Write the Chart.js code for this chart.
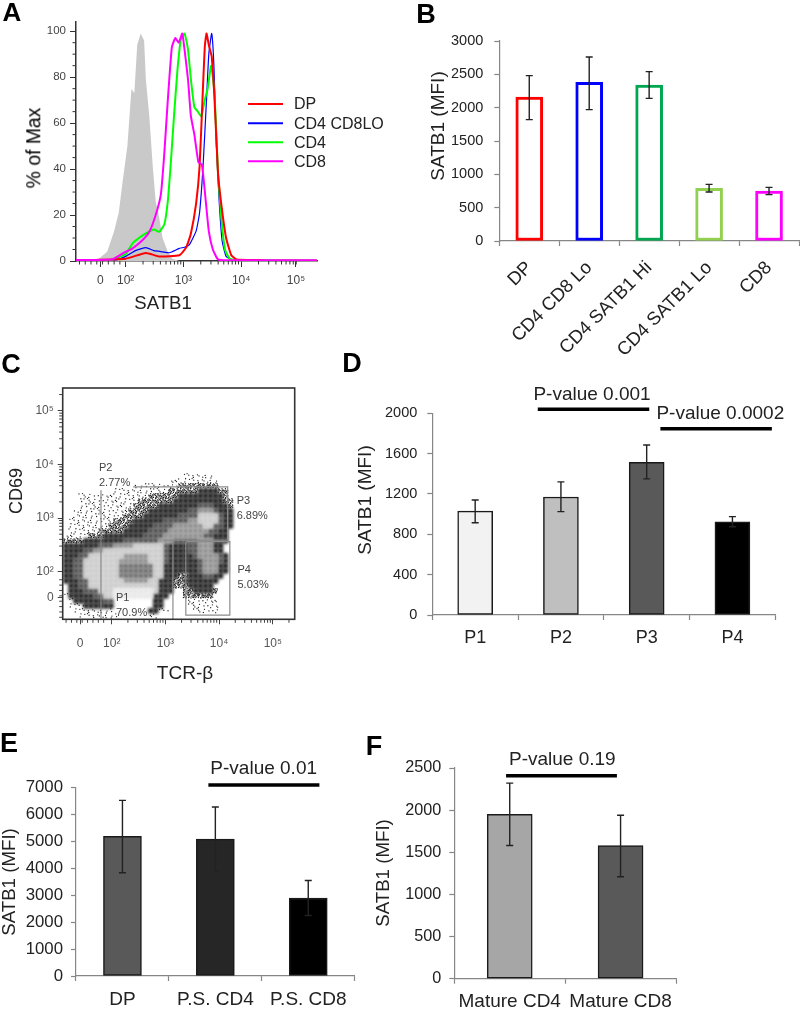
<!DOCTYPE html>
<html>
<head>
<meta charset="utf-8">
<title>SATB1 panels</title>
<script src="https://cdn.jsdelivr.net/npm/chart.js@4"></script>
<style>
  html, body { margin: 0; padding: 0; background: #fff; }
  #page { position: relative; width: 800px; height: 1009px; overflow: hidden; font-family: "Liberation Sans", Arial, sans-serif; filter: blur(0.35px); }
  canvas { position: absolute; }
  .txt { position: absolute; white-space: nowrap; color: #222; line-height: 1; }
</style>
</head>
<body>
<div id="page"></div>
<script>
// Panel A: histogram curves, x in display decades, y in % of max
const grayX = [1.14,1.48,1.56,1.68,1.80,1.88,1.95,2.03,2.10,2.15,2.20,2.26,2.32,2.35,2.41,2.47,2.52,2.58,2.64,2.73,2.81,2.93];
const grayY = [0,0.3,1.5,4,13,21,35,50,75,73,94,99,96,79,63,41,26,19,10,4,1,0];
const dpX = [1.14,2.00,2.35,2.58,2.93,3.05,3.13,3.22,3.28,3.33,3.37,3.40,3.44,3.49,3.54,3.60,3.66,3.74,3.83,3.92,4.33,4.44,5.31];
const dpY = [0.3,1,3.5,2,2.5,6,12,25,41,70,93,99,94,89,70,38,24,10,2.5,0.7,0.4,0.1,0.1];
const loX = [1.14,1.83,2.00,2.17,2.35,2.49,2.64,2.76,2.93,3.02,3.10,3.22,3.28,3.34,3.40,3.44,3.49,3.53,3.57,3.62,3.67,3.74,3.86,5.31];
const loY = [0.4,0.5,2,4.5,5.8,4.5,4,3.6,5.5,6,7,13,21,41,70,90,99,84,51,26,9,2,0.4,0.2];
const cd4X = [1.14,1.71,1.80,2.00,2.12,2.23,2.35,2.49,2.58,2.67,2.73,2.78,2.84,2.90,2.96,3.02,3.08,3.13,3.19,3.25,3.31,3.37,3.42,3.48,3.54,3.60,3.66,3.72,3.80,3.92,5.31];
const cd4Y = [0.2,0.2,1,3,7.7,10,12,13.7,12.7,16,26,42,64,84,97,99,92,79,67,65,63,70,75,85,73,38,18,5,1,0.3,0.2];
const cd8X = [1.14,1.71,1.80,1.97,2.12,2.29,2.41,2.52,2.61,2.67,2.73,2.80,2.86,2.92,2.98,3.02,3.08,3.13,3.19,3.26,3.32,3.38,3.44,3.51,3.60,3.74,5.31];
const cd8Y = [0.4,0.5,1,3.6,5.5,9,12.7,20,29,47,70,93,97,95,99,92,79,63,55,43,42,28,13,5,0.7,0.3,0.3];
const legendNames = ['DP', 'CD4 CD8LO', 'CD4', 'CD8'];
const legendColors = ['#ff0000', '#0000ff', '#00ff00', '#ff00ff'];
const aTickPos = [1.56, 2, 3, 4, 4.95];
const flowTickText = ['0', '10²', '10³', '10⁴', '10⁵'];

// Panel B
const bLabels = ['DP', 'CD4 CD8 Lo', 'CD4 SATB1 Hi', 'CD4 SATB1 Lo', 'CD8'];
const bValues = [2160, 2380, 2340, 790, 750];
const bHigh = [2480, 2760, 2540, 850, 805];
const bLow = [1820, 1970, 2140, 735, 695];
const bColors = ['#ff0000', '#0000ff', '#00a650', '#92d050', '#ff00ff'];

// Panel C: density, one run-list per row (top to bottom), level char + cell count
const densityRows = [
  '_24 .6 _4',
  '_21 .10 _3',
  '_14 .9 +8 _3',
  '_10 .11 +6 #4 +2 _1',
  '_3 .14 +6 #9 +1 _1',
  '_3 .12 +7 #10 +2',
  '_3 .11 +5 #8 d3 #3 +1',
  '_2 .11 +4 #8 d2 m3 d1 #3',
  '_2 .10 +4 #7 d4 l4 d1 #2',
  '_1 .9 +4 #6 d5 m2 l4 d1 #2',
  '_1 .8 +4 #5 d4 m6 l2 d2 #2',
  '_1 .6 +5 #5 d4 m8 d2 #2 _1',
  '.5 +3 #8 d4 m8 d2 #3 _1',
  '+4 #8 d7 m3 d5 m3 #3 _1',
  '#7 d3 m4 l6 d1 #4 d2 m3 #2 _2',
  '#4 d2 m2 l12 d1 #4 d2 m3 #2 _2',
  '#3 d2 l7 m5 l3 d1 #5 d1 m4 d1 #1 _1',
  '#2 d2 l7 m6 l3 d1 #6 d1 m3 d1 #1 _1',
  '#2 d2 l7 c7 l2 #7 d1 m3 #2 _1',
  '#2 d2 l7 c7 l2 #7 d1 m3 #2 _1',
  '#2 d2 l7 c7 l2 #3 +2 #3 d2 #2 _2',
  '#3 d2 l7 m5 l2 #3 +2 #7 _3',
  '_1 #2 d2 l14 #3 +3 #5 _4',
  '_1 #3 d3 l3 w8 l1 #3 _2 +2 #4 +1 _3',
  '.1 #5 d2 l2 w8 #3 _3 +6 _4',
  '_1 .1 #6 d2 _8 #2 _5 .6 _3',
  '_1 .3 #6 _8 #2 _5 .6 _3',
  '_2 .8 _7 #2 .2 _5 .5 _3',
  '_3 .8 _6 .2 _15'
];
const densityLevels = ['w', 'l', 'm', 'c', 'd', '#'];
const densityColors = ['#e6e6e6', '#c6c6c6', '#868686', '#636363', '#404040', '#111111'];
// sparse cells get this many dots each, laid out from a fixed offset table
const speckCounts = { '.': 2, '+': 12 };
const speckOffsets = [[0.12,0.63],[0.57,0.08],[0.86,0.71],[0.34,0.29],[0.71,0.46],[0.05,0.18],[0.48,0.92],[0.93,0.24],[0.27,0.81],[0.63,0.37],[0.18,0.49],[0.79,0.95],[0.41,0.58],[0.96,0.53],[0.09,0.88],[0.52,0.14]];
const p2GateX = [1.80, 1.80];
const p2GateY = [3.52, 1.113];
const p3GateX = [2.40, 4.16, 4.16, 2.96];
const p3GateY = [3.58, 3.58, 2.59, 2.59];
const p3SideX = [3.14, 3.14];
const p3SideY = [2.59, 1.113];
const p4GateX = [3.38, 4.20, 4.20, 3.38, 3.38];
const p4GateY = [2.56, 2.56, 1.19, 1.19, 2.56];
const cTickXPos = [1.41, 2, 3, 4, 5];
const cTickYPos = [1.523, 2, 3, 4, 5];

// Panel D
const dLabels = ['P1', 'P2', 'P3', 'P4'];
const dValues = [1030, 1170, 1515, 925];
const dHigh = [1140, 1320, 1685, 975];
const dLow = [915, 1025, 1350, 875];
const dColors = ['#f2f2f2', '#bfbfbf', '#595959', '#000000'];

// Panel E
const eLabels = ['DP', 'P.S. CD4', 'P.S. CD8'];
const eValues = [5190, 5090, 2900];
const eHigh = [6530, 6280, 3550];
const eLow = [3840, 3880, 2250];
const eColors = ['#595959', '#262626', '#000000'];

// Panel F
const fLabels = ['Mature CD4', 'Mature CD8'];
const fValues = [1950, 1580];
const fHigh = [2320, 1940];
const fLow = [1580, 1210];
const fColors = ['#a6a6a6', '#595959'];

Chart.defaults.font.family = '"Liberation Sans", Arial, sans-serif';
Chart.defaults.animation = false;

const page = document.getElementById('page');

function zip(xs, ys) {
    return xs.map((x, i) => ({ x: x, y: ys[i] }));
}

function addText(text, x, y, size, opts = {}) {
    const el = document.createElement('div');
    el.className = 'txt';
    el.textContent = text;
    el.style.left = x + 'px';
    el.style.top = y + 'px';
    el.style.fontSize = size + 'px';
    if (opts.bold) el.style.fontWeight = 'bold';
    if (opts.color) el.style.color = opts.color;
    let tf = opts.left ? 'translate(0,-50%)' : 'translate(-50%,-50%)';
    if (opts.rotate) tf += ' rotate(' + opts.rotate + 'deg)';
    el.style.transform = tf;
    page.appendChild(el);
}

function addCanvas(box) {
    const c = document.createElement('canvas');
    c.width = box.width;
    c.height = box.height;
    c.style.left = box.left + 'px';
    c.style.top = box.top + 'px';
    c.style.width = box.width + 'px';
    c.style.height = box.height + 'px';
    page.appendChild(c);
    return c;
}

// error bars and p-value rules, placed through the chart's scales
const barExtras = {
    id: 'barExtras',
    afterDatasetsDraw(chart, args, opts) {
        const { ctx, scales: { x, y } } = chart;
        ctx.save();
        ctx.strokeStyle = '#222';
        ctx.lineWidth = 1.4;
        (opts.high || []).forEach((hi, i) => {
            const px = x.getPixelForValue(i);
            const top = y.getPixelForValue(hi);
            const bottom = y.getPixelForValue(opts.low[i]);
            ctx.beginPath();
            ctx.moveTo(px, top);
            ctx.lineTo(px, bottom);
            ctx.moveTo(px - 3.5, top);
            ctx.lineTo(px + 3.5, top);
            ctx.moveTo(px - 3.5, bottom);
            ctx.lineTo(px + 3.5, bottom);
            ctx.stroke();
        });
        ctx.strokeStyle = '#000';
        ctx.lineWidth = 3.5;
        (opts.rules || []).forEach(r => {
            const py = y.getPixelForValue(r.y);
            ctx.beginPath();
            ctx.moveTo(x.getPixelForValue(r.from), py);
            ctx.lineTo(x.getPixelForValue(r.to), py);
            ctx.stroke();
        });
        ctx.restore();
    }
};

function barChart(box, plot, cfg) {
    const canvas = addCanvas(box);
    return new Chart(canvas, {
        type: 'bar',
        data: {
            labels: cfg.labels,
            datasets: [{
                data: cfg.values,
                backgroundColor: cfg.fill || cfg.colors,
                borderColor: cfg.border || '#1a1a1a',
                borderWidth: cfg.borderWidth || 1.5,
                borderSkipped: false,
                barThickness: cfg.barWidth
            }]
        },
        options: {
            responsive: false,
            layout: {
                autoPadding: false,
                padding: { top: plot.top - box.top, right: box.left + box.width - plot.right, left: 0, bottom: 0 }
            },
            plugins: {
                legend: { display: false },
                tooltip: { enabled: false },
                barExtras: { high: cfg.high, low: cfg.low, rules: cfg.rules }
            },
            scales: {
                x: {
                    afterFit: s => { s.height = box.top + box.height - plot.bottom; },
                    grid: { offset: true, drawOnChartArea: false, color: '#868686', tickLength: 5, tickWidth: 1.2 },
                    border: { color: '#868686', width: 1.2 },
                    ticks: Object.assign({ color: '#222', autoSkip: false, maxRotation: 0, padding: cfg.xPad, font: { size: cfg.xSize } }, cfg.xTicks)
                },
                y: {
                    min: 0,
                    max: cfg.max,
                    afterFit: s => { s.width = plot.left - box.left; },
                    grid: { drawOnChartArea: false, color: '#868686', tickLength: 5, tickWidth: 1.2 },
                    border: { color: '#868686', width: 1.2 },
                    ticks: { stepSize: cfg.step, color: '#222', padding: cfg.yPad, font: { size: cfg.ySize }, callback: v => String(v) }
                }
            }
        },
        plugins: [barExtras]
    });
}

// minor log ticks for the flow plots, drawn beside the scale's own major ticks
function logMinorTicks(low, high) {
    const out = [];
    for (let k = 2; k < high; k++) {
        for (let m = 2; m < 10; m++) {
            const v = k + Math.log10(m);
            if (v < high) out.push(v);
        }
    }
    for (let v = low; v < 1.95; v += 0.1) out.push(v);
    return out;
}

const flowMinor = {
    id: 'flowMinor',
    afterDraw(chart, args, opts) {
        const { ctx, scales: { x, y }, chartArea } = chart;
        ctx.save();
        ctx.strokeStyle = opts.color;
        ctx.lineWidth = 1;
        ctx.beginPath();
        (opts.xTicks || []).forEach(v => {
            const px = x.getPixelForValue(v);
            ctx.moveTo(px, chartArea.bottom);
            ctx.lineTo(px, chartArea.bottom + 3.5);
        });
        (opts.yTicks || []).forEach(v => {
            const py = y.getPixelForValue(v);
            ctx.moveTo(chartArea.left, py);
            ctx.lineTo(chartArea.left - 3.5, py);
        });
        ctx.stroke();
        if (opts.frame) {
            ctx.strokeStyle = opts.frame;
            ctx.lineWidth = 1.6;
            ctx.strokeRect(chartArea.left, chartArea.top, chartArea.right - chartArea.left, chartArea.bottom - chartArea.top);
        }
        ctx.restore();
    }
};

const legendLines = {
    id: 'legendLines',
    afterDraw(chart) {
        const { ctx } = chart;
        const rowY = [104, 123.3, 142.3, 161.3];
        ctx.save();
        ctx.lineWidth = 2;
        legendNames.forEach((name, i) => {
            ctx.strokeStyle = legendColors[i];
            ctx.beginPath();
            ctx.moveTo(248, rowY[i]);
            ctx.lineTo(283, rowY[i]);
            ctx.stroke();
            ctx.fillStyle = '#222';
            ctx.font = '16px "Liberation Sans", Arial, sans-serif';
            ctx.textBaseline = 'middle';
            ctx.fillText(name, 294, rowY[i] + 1);
        });
        ctx.restore();
    }
};

// soften the density blocks so they read like a smoothed plot
const softCells = {
    id: 'softCells',
    beforeDatasetDraw(chart, args) {
        if (chart.data.datasets[args.index].soft) {
            chart.ctx.save();
            chart.ctx.filter = 'blur(1.6px)';
        }
    },
    afterDatasetDraw(chart, args) {
        if (chart.data.datasets[args.index].soft) chart.ctx.restore();
    }
};

function curve(xs, ys, color, width) {
    return { data: zip(xs, ys), borderColor: color, borderWidth: width, showLine: true, pointRadius: 0, tension: 0.15, fill: false };
}

// Panel A
new Chart(addCanvas({ left: 0, top: 0, width: 400, height: 300 }), {
    type: 'scatter',
    data: {
        datasets: [
            curve(cd8X, cd8Y, '#ff00ff', 2),
            curve(dpX, dpY, '#ff0000', 2),
            curve(cd4X, cd4Y, '#00ff00', 2),
            curve(loX, loY, '#0000ff', 1.2),
            Object.assign(curve(grayX, grayY, '#c9c9c9', 0), { fill: 'origin', backgroundColor: '#c9c9c9', tension: 0 })
        ]
    },
    options: {
        responsive: false,
        layout: { autoPadding: false, padding: { top: 22, right: 83, left: 0, bottom: 0 } },
        plugins: {
            legend: { display: false },
            tooltip: { enabled: false },
            flowMinor: {
                color: '#333',
                xTicks: logMinorTicks(1.2, 5.3),
                yTicks: [5, 10, 15, 25, 30, 35, 45, 50, 55, 65, 70, 75, 85, 90, 95]
            }
        },
        scales: {
            x: {
                type: 'linear',
                min: 1.14,
                max: 5.314,
                afterFit: s => { s.height = 39; },
                afterBuildTicks: s => { s.ticks = aTickPos.map(v => ({ value: v })); },
                grid: { drawOnChartArea: false, color: '#333', tickLength: 6 },
                border: { color: '#333', width: 1.5 },
                ticks: { color: '#444', padding: 6, maxRotation: 0, autoSkip: false, font: { size: 12 }, callback: (v, i) => flowTickText[i] }
            },
            y: {
                min: 0,
                max: 104,
                afterFit: s => { s.width = 76; },
                grid: { drawOnChartArea: false, color: '#333', tickLength: 6 },
                border: { color: '#333', width: 1.5 },
                ticks: { stepSize: 20, includeBounds: false, color: '#444', padding: 4, font: { size: 11.5 } }
            }
        }
    },
    plugins: [flowMinor, legendLines]
});

// Panel B
barChart({ left: 400, top: 0, width: 400, height: 380 }, { left: 499.3, right: 799, top: 41, bottom: 241 }, {
    labels: bLabels, values: bValues, high: bHigh, low: bLow,
    fill: '#ffffff', border: bColors, borderWidth: 3, barWidth: 27, max: 3000, step: 500,
    xSize: 18.5, ySize: 14.5, xPad: 11, yPad: 11, xTicks: { minRotation: 45, maxRotation: 45 }
});

// Panel C
const densityPoints = densityLevels.map(() => []);
const speckPoints = [];
densityRows.forEach((row, r) => {
    let col = 0;
    row.split(' ').forEach(run => {
        const level = densityLevels.indexOf(run[0]);
        const count = parseInt(run.slice(1), 10);
        for (let i = 0; i < count; i++) {
            const cx = 1.150 + 0.0928 * (col + i);
            const cy = 3.786 - 0.0932 * r;
            if (level >= 0) densityPoints[level].push({ x: cx, y: cy });
            for (let k = 0; k < (speckCounts[run[0]] || 0); k++) {
                const off = speckOffsets[((col + i) * 5 + r * 11 + k * 3) % speckOffsets.length];
                speckPoints.push({ x: cx + (off[0] - 0.5) * 0.0928, y: cy + (off[1] - 0.5) * 0.0932 });
            }
        }
        col += count;
    });
});

function gate(xs, ys) {
    return { data: zip(xs, ys), showLine: true, borderColor: '#8c8c8c', borderWidth: 1.2, pointRadius: 0 };
}

new Chart(addCanvas({ left: 0, top: 340, width: 320, height: 320 }), {
    type: 'scatter',
    data: {
        datasets: [
            gate(p2GateX, p2GateY), gate(p3GateX, p3GateY), gate(p3SideX, p3SideY), gate(p4GateX, p4GateY),
            { data: speckPoints, pointRadius: 0.65, pointBorderWidth: 0, backgroundColor: '#1a1a1a' }
        ].concat(densityLevels.map((lv, i) => ({
            data: densityPoints[i],
            soft: true,
            pointStyle: 'rect',
            pointRadius: 3.7,
            pointBorderWidth: 0,
            backgroundColor: densityColors[i]
        })))
    },
    options: {
        responsive: false,
        layout: { autoPadding: false, padding: { top: 48, right: 25.3, left: 0, bottom: 0 } },
        plugins: {
            legend: { display: false },
            tooltip: { enabled: false },
            flowMinor: {
                color: '#444',
                frame: '#333',
                xTicks: logMinorTicks(1.15, 5.4),
                yTicks: logMinorTicks(1.15, 5.4)
            }
        },
        scales: {
            x: {
                type: 'linear',
                min: 1.087,
                max: 5.408,
                afterFit: s => { s.height = 40.7; },
                afterBuildTicks: s => { s.ticks = cTickXPos.map(v => ({ value: v })); },
                grid: { drawOnChartArea: false, color: '#444', tickLength: 5 },
                border: { display: false },
                ticks: { color: '#555', padding: 12, maxRotation: 0, autoSkip: false, font: { size: 12 }, callback: (v, i) => flowTickText[i] }
            },
            y: {
                min: 1.113,
                max: 5.423,
                afterFit: s => { s.width = 62.7; },
                afterBuildTicks: s => { s.ticks = cTickYPos.map(v => ({ value: v })); },
                grid: { drawOnChartArea: false, color: '#444', tickLength: 5 },
                border: { display: false },
                ticks: { color: '#555', padding: 4, autoSkip: false, font: { size: 12 }, callback: (v, i) => flowTickText[i] }
            }
        }
    },
    plugins: [flowMinor, softCells]
});

// Panel D
barChart({ left: 340, top: 370, width: 460, height: 290 }, { left: 432.3, right: 775.3, top: 413.3, bottom: 615 }, {
    labels: dLabels, values: dValues, high: dHigh, low: dLow, colors: dColors,
    barWidth: 35, max: 2000, step: 400, xSize: 18, ySize: 14.5, xPad: 7, yPad: 10,
    rules: [{ from: 0.73, to: 2.03, y: 2040 }, { from: 2.16, to: 3.46, y: 1848 }]
});

// Panel E
barChart({ left: 0, top: 720, width: 360, height: 289 }, { left: 76, right: 354.7, top: 787.7, bottom: 976 }, {
    labels: eLabels, values: eValues, high: eHigh, low: eLow, colors: eColors,
    barWidth: 38, max: 7000, step: 1000, xSize: 19, ySize: 16.8, xPad: 7, yPad: 8,
    rules: [{ from: 0.925, to: 2.12, y: 7100 }]
});

// Panel F
barChart({ left: 360, top: 720, width: 360, height: 289 }, { left: 454.3, right: 676, top: 768, bottom: 978.7 }, {
    labels: fLabels, values: fValues, high: fHigh, low: fLow, colors: fColors,
    barWidth: 45, max: 2500, step: 500, xSize: 19, ySize: 16.2, xPad: 7, yPad: 8,
    rules: [{ from: -0.033, to: 0.967, y: 2409 }]
});

// panel letters
addText('A', 12, 12, 26, { bold: true, color: '#000' });
addText('B', 426, 14, 27, { bold: true, color: '#000' });
addText('C', 11, 364, 27, { bold: true, color: '#000' });
addText('D', 352, 363, 27, { bold: true, color: '#000' });
addText('E', 9, 743, 27, { bold: true, color: '#000' });
addText('F', 374, 746, 27, { bold: true, color: '#000' });

// axis titles
addText('% of Max', 34, 148, 19.4, { rotate: -90, color: '#000' });
addText('SATB1', 163, 303, 18.6);
addText('SATB1 (MFI)', 437, 126, 19, { rotate: -90 });
addText('CD69', 16, 491, 18, { rotate: -90 });
addText('TCR-β', 185, 672, 19);
addText('SATB1 (MFI)', 364, 500, 19, { rotate: -90 });
addText('SATB1 (MFI)', 9, 882, 18.7, { rotate: -90 });
addText('SATB1 (MFI)', 382.7, 873, 18.7, { rotate: -90 });

// p-values
addText('P-value 0.001', 592, 392.7, 19);
addText('P-value 0.0002', 720.3, 412.3, 19);
addText('P-value 0.01', 263.7, 767.3, 19);
addText('P-value 0.19', 562.3, 757.7, 19);

// gate labels in panel C
addText('P2', 99, 467, 11, { left: true, color: '#444' });
addText('2.77%', 99, 481.7, 11, { left: true, color: '#444' });
addText('P3', 236.7, 500, 11, { left: true, color: '#444' });
addText('6.89%', 236.7, 515, 11, { left: true, color: '#444' });
addText('P4', 237.5, 569.3, 11, { left: true, color: '#444' });
addText('5.03%', 237.5, 584, 11, { left: true, color: '#444' });
addText('P1', 116, 597.3, 11, { left: true, color: '#444' });
addText('70.9%', 116, 611.7, 11, { left: true, color: '#444' });
</script>
</body>
</html>
